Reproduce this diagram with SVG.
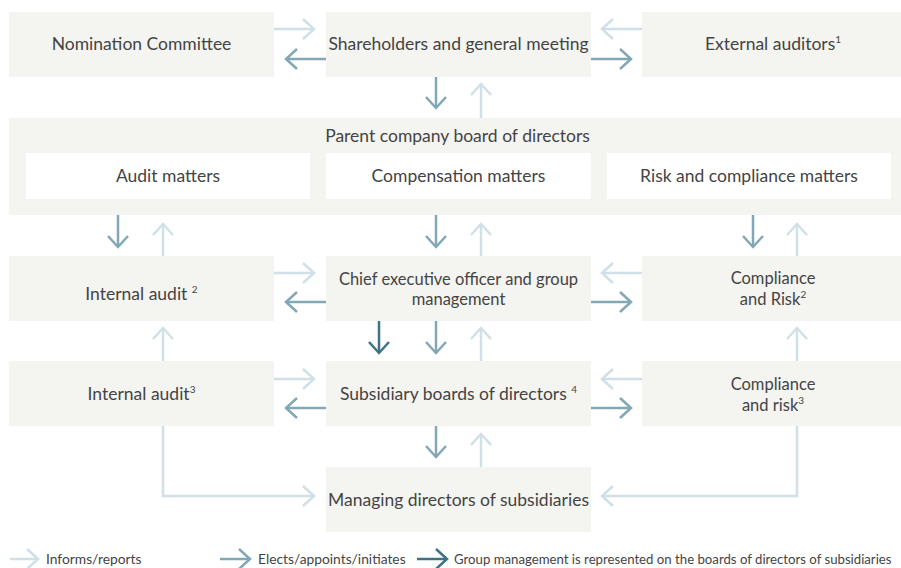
<svg xmlns="http://www.w3.org/2000/svg" width="901" height="568" viewBox="0 0 901 568">
<defs>
<style>
.box{fill:#f4f4f0}
.inner{fill:#ffffff}
text{font-family:Lato,"Liberation Sans",sans-serif;fill:#444444;font-size:17.5px}
.t{text-anchor:middle}
.two{font-size:16.5px}
.sup{font-size:10px}
.leg{font-size:13.8px}
.leg2{font-size:13.2px}
.c{fill:none;stroke-width:2.5}
.l{stroke:#cfe0e6}
.m{stroke:#82a7b5}
.d{stroke:#3f7285}
.l{marker-end:url(#aL)}
.m{marker-end:url(#aM)}
.d{marker-end:url(#aD)}
</style>
<marker id="aL" viewBox="-14 -12 16 24" markerWidth="16" markerHeight="24" refX="0" refY="0" orient="auto" markerUnits="userSpaceOnUse"><path d="M-11,-10 L0,0 L-11,10" fill="none" stroke="#cfe0e6" stroke-width="2.5"/></marker>
<marker id="aM" viewBox="-14 -12 16 24" markerWidth="16" markerHeight="24" refX="0" refY="0" orient="auto" markerUnits="userSpaceOnUse"><path d="M-11,-10 L0,0 L-11,10" fill="none" stroke="#82a7b5" stroke-width="2.5"/></marker>
<marker id="aD" viewBox="-14 -12 16 24" markerWidth="16" markerHeight="24" refX="0" refY="0" orient="auto" markerUnits="userSpaceOnUse"><path d="M-11,-10 L0,0 L-11,10" fill="none" stroke="#3f7285" stroke-width="2.5"/></marker>
</defs>
<rect width="901" height="568" fill="#ffffff"/>

<g id="nomination"><rect class="box" x="9" y="12" width="265" height="65"/><text class="t" x="141.5" y="50">Nomination Committee</text></g>
<g id="shareholders"><rect class="box" x="326" y="12" width="265" height="65"/><text class="t" x="458.5" y="50">Shareholders and general meeting</text></g>
<g id="external-auditors"><rect class="box" x="642" y="12" width="259" height="65"/><text class="t" x="773" y="50">External auditors<tspan class="sup" dy="-7">1</tspan></text></g>

<g id="parent-board"><rect class="box" x="9" y="118" width="892" height="97"/><text class="t" x="457.5" y="142">Parent company board of directors</text>
<g id="audit-matters"><rect class="inner" x="26" y="153" width="284" height="46"/><text class="t" x="168" y="182">Audit matters</text></g>
<g id="compensation-matters"><rect class="inner" x="326" y="153" width="265" height="46"/><text class="t" x="458.5" y="182">Compensation matters</text></g>
<g id="risk-compliance-matters"><rect class="inner" x="607" y="153" width="284" height="46"/><text class="t" x="749" y="182">Risk and compliance matters</text></g>
</g>

<g id="internal-audit-2"><rect class="box" x="9" y="256" width="265" height="65"/><text class="t" x="141.5" y="300">Internal audit <tspan class="sup" dy="-7">2</tspan></text></g>
<g id="ceo"><rect class="box" x="326" y="256" width="265" height="65"/><text class="t two" x="458.5" y="284.5">Chief executive officer and group</text><text class="t two" x="458.5" y="305">management</text></g>
<g id="compliance-risk-2"><rect class="box" x="642" y="256" width="259" height="65"/><text class="t two" x="773" y="284">Compliance</text><text class="t two" x="773" y="304.5">and Risk<tspan class="sup" dy="-7">2</tspan></text></g>

<g id="internal-audit-3"><rect class="box" x="9" y="361" width="265" height="65"/><text class="t" x="141.5" y="400">Internal audit<tspan class="sup" dy="-7">3</tspan></text></g>
<g id="subsidiary-boards"><rect class="box" x="326" y="361" width="265" height="65"/><text class="t" x="458.5" y="400">Subsidiary boards of directors <tspan class="sup" dy="-7">4</tspan></text></g>
<g id="compliance-risk-3"><rect class="box" x="642" y="361" width="259" height="65"/><text class="t two" x="773" y="390">Compliance</text><text class="t two" x="773" y="410.5">and risk<tspan class="sup" dy="-7">3</tspan></text></g>

<g id="managing-directors"><rect class="box" x="326" y="467" width="265" height="65"/><text class="t" x="458.5" y="506">Managing directors of subsidiaries</text></g>

<g id="connectors">
<path class="c l" d="M274,29 H314"/>
<path class="c l" d="M642,29 H602"/>
<path class="c l" d="M481,118 V84"/>
<path class="c l" d="M163,256 V224"/>
<path class="c l" d="M481,256 V224"/>
<path class="c l" d="M797,256 V224"/>
<path class="c l" d="M274,273 H314"/>
<path class="c l" d="M642,273 H602"/>
<path class="c l" d="M163,361 V328"/>
<path class="c l" d="M481,361 V328"/>
<path class="c l" d="M797,361 V328"/>
<path class="c l" d="M274,379 H314"/>
<path class="c l" d="M642,379 H602"/>
<path class="c l" d="M481,467 V434"/>
<path class="c l" d="M163,426 V496 H314"/>
<path class="c l" d="M797,426 V496 H602"/>
<path class="c m" d="M326,59 H286"/>
<path class="c m" d="M591,59 H631"/>
<path class="c m" d="M436,77 V108"/>
<path class="c m" d="M118,215 V247"/>
<path class="c m" d="M436,215 V247"/>
<path class="c m" d="M753,215 V247"/>
<path class="c m" d="M326,302 H286"/>
<path class="c m" d="M591,302 H631"/>
<path class="c m" d="M436,321 V353"/>
<path class="c m" d="M326,408 H286"/>
<path class="c m" d="M591,408 H631"/>
<path class="c m" d="M436,426 V457"/>
<path class="c d" d="M379,321 V353"/>
</g>

<g id="legend">
<path class="c l" d="M10,559 H38"/>
<text class="leg" x="46" y="564">Informs/reports</text>
<path class="c m" d="M220,559 H250"/>
<text class="leg" x="258" y="564">Elects/appoints/initiates</text>
<path class="c d" d="M417,559 H447"/>
<text class="leg2" x="454" y="564">Group management is represented on the boards of directors of subsidiaries</text>
</g>
</svg>
